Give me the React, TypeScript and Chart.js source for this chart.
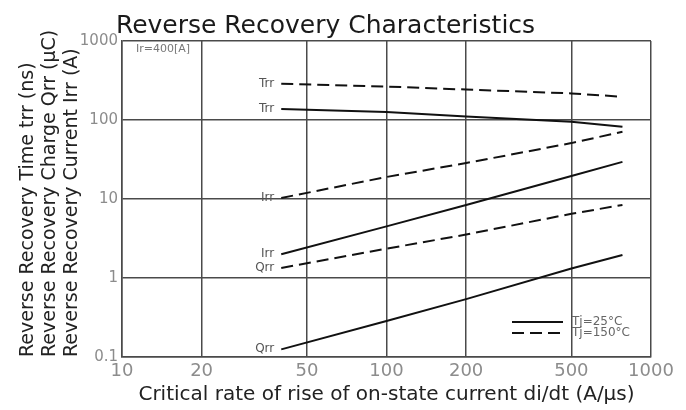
import { useEffect, useRef } from 'react';
import { Chart, registerables } from 'chart.js';

Chart.register(...registerables);

const FONT = '"DejaVu Sans", "Liberation Sans", Arial, sans-serif';

const titleText = 'Reverse Recovery Characteristics';
const xTitle = 'Critical rate of rise of on-state current di/dt (A/μs)';
const yTitle = [
  'Reverse Recovery Time trr (ns)',
  'Reverse Recovery Charge Qrr (μC)',
  'Reverse Recovery Current Irr (A)',
];
const xTicks = [10, 20, 50, 100, 200, 500, 1000];
const yTicks = [0.1, 1, 10, 100, 1000];

const diDt = [40, 100, 200, 500, 780];
const trr25 = [138, 126, 111, 95, 82];
const trr150 = [288, 265, 243, 217, 197];
const irr25 = [2.0, 4.5, 8.4, 19.5, 29.5];
const irr150 = [10.3, 19, 28.5, 51, 71];
const qrr25 = [0.125, 0.285, 0.54, 1.32, 1.95];
const qrr150 = [1.34, 2.35, 3.55, 6.5, 8.4];

const seriesNames = ['Trr', 'Trr', 'Irr', 'Irr', 'Qrr', 'Qrr'];
const seriesTemps = ['150', '25', '150', '25', '150', '25'];
const seriesValues = [trr150, trr25, irr150, irr25, qrr150, qrr25];
const legendLabels = ['Tj=25°C', 'Tj=150°C'];
const conditionNote = 'Ir=400[A]';

const DASH = [12, 6];

export default function App() {
  const ref = useRef<HTMLCanvasElement>(null);

  useEffect(() => {
    document.body.style.margin = '0';
    const canvas = ref.current!;

    const curveLabels = {
      id: 'curveLabels',
      afterDatasetsDraw(chart: any) {
        const ctx = chart.ctx;
        ctx.save();
        ctx.font = `12px ${FONT}`;
        ctx.fillStyle = '#555';
        ctx.textAlign = 'right';
        ctx.textBaseline = 'middle';
        chart.data.datasets.forEach((ds: any, i: number) => {
          const meta = chart.getDatasetMeta(i);
          const p = meta.data[0];
          if (p) ctx.fillText(ds.label, p.x - 7, p.y);
        });
        // condition note
        const a = chart.chartArea;
        ctx.textAlign = 'left';
        ctx.font = `11px ${FONT}`;
        ctx.fillStyle = '#777';
        ctx.fillText(conditionNote, a.left + 14, a.top + 8);
        // legend
        const lx0 = a.right - 139;
        const lx1 = a.right - 88;
        const ly = [a.bottom - 35, a.bottom - 24];
        ctx.strokeStyle = '#111';
        ctx.lineWidth = 2;
        legendLabels.forEach((t, i) => {
          ctx.setLineDash(i === 0 ? [] : DASH);
          ctx.beginPath();
          ctx.moveTo(lx0, ly[i]);
          ctx.lineTo(lx1, ly[i]);
          ctx.stroke();
          ctx.setLineDash([]);
          ctx.fillStyle = '#666';
          ctx.font = `12px ${FONT}`;
          ctx.fillText(t, lx1 + 9, ly[i]);
        });
        ctx.restore();
      },
    };

    const chart = new Chart(canvas, {
      type: 'line',
      data: {
        datasets: seriesValues.map((vals, i) => ({
          label: seriesNames[i],
          data: vals.map((y, j) => ({ x: diDt[j], y })),
          borderColor: '#111',
          borderWidth: 2,
          borderDash: seriesTemps[i] === '150' ? DASH : [],
          pointRadius: 0,
          fill: false,
          tension: 0,
        })),
      },
      options: {
        responsive: false,
        animation: false,
        layout: { padding: { left: 0, right: 35, top: 0, bottom: 0 } },
        plugins: {
          legend: { display: false },
          tooltip: { enabled: false },
          title: {
            display: true,
            text: titleText,
            color: '#1a1a1a',
            font: { size: 25, family: FONT, weight: 'normal', lineHeight: 1.2 },
            padding: { top: 11, bottom: 0 },
          },
        },
        scales: {
          x: {
            type: 'logarithmic',
            min: 10,
            max: 1000,
            afterBuildTicks: (s: any) => {
              s.ticks = xTicks.map((v) => ({ value: v }));
            },
            afterFit: (s: any) => {
              s.height = 53;
            },
            ticks: {
              callback: (v: any) => String(v),
              color: '#8c8c8c',
              font: { size: 18, family: FONT },
              padding: 4,
              autoSkip: false,
              maxRotation: 0,
            },
            grid: { color: '#4a4a4a', lineWidth: 1.5, drawTicks: false },
            border: { color: '#4a4a4a', width: 1.5 },
            title: {
              display: true,
              text: xTitle,
              color: '#222',
              font: { size: 20, family: FONT, lineHeight: 1.2 },
              padding: { top: 0, bottom: 3 },
            },
          },
          y: {
            type: 'logarithmic',
            min: 0.1,
            max: 1000,
            afterBuildTicks: (s: any) => {
              s.ticks = yTicks.map((v) => ({ value: v }));
            },
            afterFit: (s: any) => {
              s.width = 122;
            },
            ticks: {
              callback: (v: any) => String(v),
              color: '#8c8c8c',
              font: { size: 15, family: FONT },
              padding: 4,
              autoSkip: false,
            },
            grid: { color: '#4a4a4a', lineWidth: 1.5, drawTicks: false },
            border: { color: '#4a4a4a', width: 1.5 },
            title: {
              display: true,
              text: yTitle,
              align: 'start',
              color: '#222',
              font: { size: 19, family: FONT, lineHeight: 1.16 },
              padding: { top: 17, bottom: 0 },
            },
          },
        },
      },
      plugins: [curveLabels],
    } as any);

    return () => chart.destroy();
  }, []);

  return (
    <div style={{ position: 'absolute', left: 0, top: 0, width: 686, height: 410, background: '#fff' }}>
      <canvas ref={ref} width={686} height={410} style={{ display: 'block' }} />
    </div>
  );
}
